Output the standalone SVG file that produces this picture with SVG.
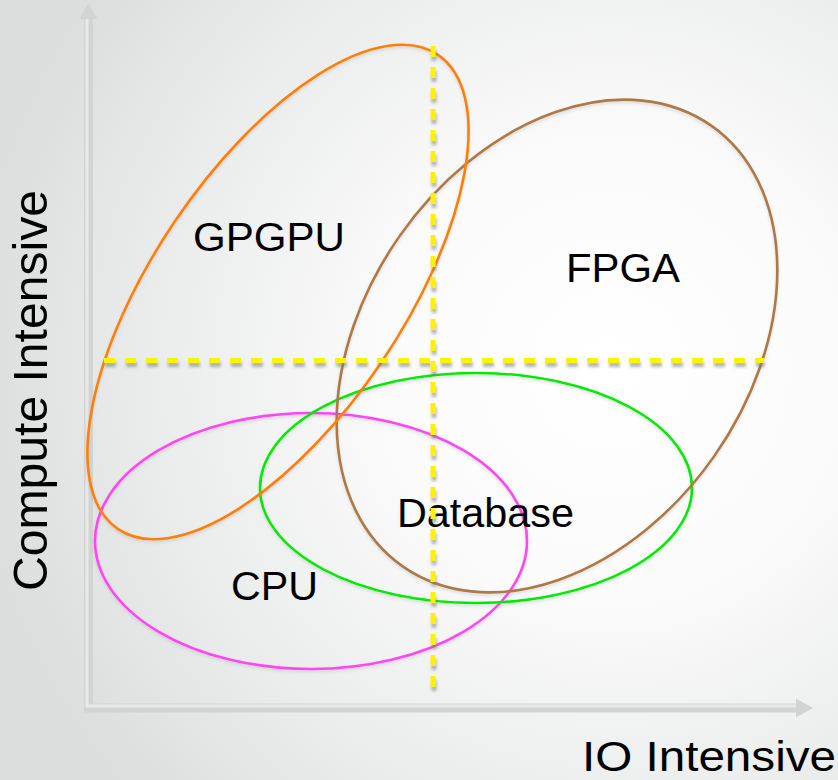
<svg xmlns="http://www.w3.org/2000/svg" width="838" height="780" viewBox="0 0 838 780">
  <defs>
    <radialGradient id="bg" gradientUnits="userSpaceOnUse" cx="610" cy="370" r="640">
      <stop offset="0" stop-color="#ffffff"/>
      <stop offset="0.35" stop-color="#fbfbfb"/>
      <stop offset="0.75" stop-color="#e9eaea"/>
      <stop offset="1" stop-color="#dcdddd"/>
    </radialGradient>
    <filter id="dashShadow" filterUnits="userSpaceOnUse" x="0" y="0" width="838" height="780">
      <feDropShadow dx="1" dy="4" stdDeviation="1.4" flood-color="#7a7a7a" flood-opacity="0.55"/>
    </filter>
    <filter id="ringShadow" filterUnits="userSpaceOnUse" x="0" y="0" width="838" height="780">
      <feDropShadow dx="0" dy="2" stdDeviation="1.5" flood-color="#808080" flood-opacity="0.25"/>
    </filter>
  </defs>
  <style>
    .ring { fill: none; stroke-width: 2.6; }
    .label { font-family: "Liberation Sans", Arial, Helvetica, sans-serif; fill: #000000; }
    .guide { fill: none; stroke: #fff200; stroke-width: 5; stroke-dasharray: 11 10; }
    .axis-body { fill: none; stroke: #d2d3d3; stroke-width: 9; }
    .axis-face { fill: none; stroke: #e8e9e9; stroke-width: 3; }
    .axis-head { fill: #d2d3d3; }
  </style>

  <!-- backdrop -->
  <rect x="0" y="0" width="838" height="780" fill="url(#bg)"/>

  <!-- axes -->
  <g id="axes">
    <path class="axis-body" d="M88.5,16 V708 H798"/>
    <path class="axis-face" d="M87,16 V706 H798"/>
    <polygon class="axis-head" points="88.5,3 79.5,19 97.5,19"/>
    <polygon class="axis-head" points="813,708 796,698.5 796,717.5"/>
  </g>

  <!-- regions -->
  <g id="cpu">
    <g filter="url(#ringShadow)">
      <ellipse class="ring" cx="311" cy="541" rx="216" ry="128" stroke="#ff44f4"/>
    </g>
    <text class="label" x="231" y="600" font-size="41" textLength="87" lengthAdjust="spacingAndGlyphs">CPU</text>
  </g>
  <g id="database">
    <g filter="url(#ringShadow)">
      <ellipse class="ring" cx="476" cy="488" rx="216" ry="115" stroke="#00ea00"/>
    </g>
    <text class="label" x="397" y="527" font-size="41" textLength="177" lengthAdjust="spacingAndGlyphs">Database</text>
  </g>
  <g id="fpga">
    <g filter="url(#ringShadow)">
      <ellipse class="ring" cx="557" cy="346" rx="269" ry="192" transform="rotate(-55 557 346)" stroke="#ad7a46"/>
    </g>
    <text class="label" x="566" y="282" font-size="41" textLength="114" lengthAdjust="spacingAndGlyphs">FPGA</text>
  </g>
  <g id="gpgpu">
    <g filter="url(#ringShadow)">
      <ellipse class="ring" cx="278" cy="292" rx="286" ry="125" transform="rotate(-56 278 292)" stroke="#ff7f00"/>
    </g>
    <text class="label" x="193" y="251" font-size="41" textLength="152" lengthAdjust="spacingAndGlyphs">GPGPU</text>
  </g>

  <!-- quadrant guides -->
  <g id="guides" filter="url(#dashShadow)">
    <line class="guide" x1="104" y1="360.5" x2="764" y2="360.5"/>
    <line class="guide" x1="433" y1="46" x2="433" y2="692"/>
  </g>

  <!-- axis titles -->
  <g id="axis-titles">
    <text class="label" x="582" y="771" font-size="43" textLength="254" lengthAdjust="spacingAndGlyphs">IO Intensive</text>
    <text class="label" transform="translate(47 591) rotate(-90)" x="0" y="0" font-size="48" textLength="401" lengthAdjust="spacingAndGlyphs">Compute Intensive</text>
  </g>
</svg>
